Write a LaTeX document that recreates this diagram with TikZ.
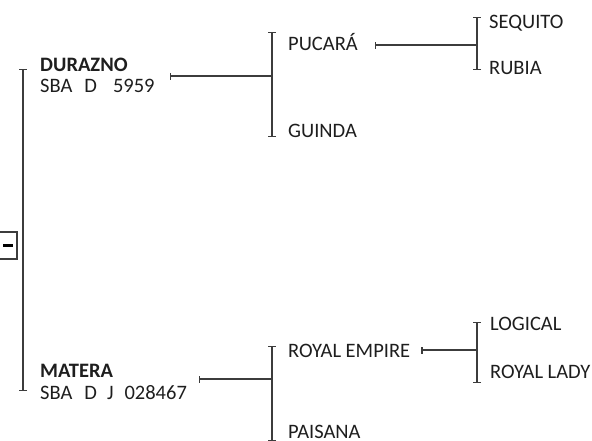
\documentclass[tikz,border=0pt]{standalone}
\usepackage{fontspec}
\setmainfont{Carlito}
\usepackage{tikz}
\usetikzlibrary{arrows.meta, calc}

\definecolor{linegray}{HTML}{3C3C3C}
\definecolor{textgray}{HTML}{1E1E1E}

\tikzset{
  lbl/.style={anchor=base west, inner sep=0pt, text=textgray, align=left,
    font=\fontsize{20.5}{21.5}\selectfont},
  lblbold/.style={lbl, font=\fontsize{20.5}{21.5}\selectfont\bfseries},
  link/.style={draw=linegray, line width=1.2pt, {Bar[width=7pt]}-},
  bracket/.style={draw=linegray, line width=1.2pt, {Bar[width=8pt]}-{Bar[width=8pt]}},
  rootbox/.style={draw=linegray, line width=1.2pt, fill=white, minimum width=18pt,
    minimum height=27pt, inner sep=0pt}
}

\begin{document}
\begin{tikzpicture}[x=1pt, y=-1pt]
\useasboundingbox (0,0) rectangle (592,440);
\clip (0,0) rectangle (592,440);
% root
\node[rootbox] (root) at (8,245.5) {\color{black}\rule[0.6pt]{10pt}{3pt}};
\coordinate (rtop) at (23,69);
\coordinate (rbot) at (23,391);
\draw[bracket] (rtop) -- (rbot);
% parents (base anchor sits on the last line)
\node[lblbold] (durazno) at (40,92.5) {DURAZNO\\\mdseries SBA\hspace{12pt}D\hspace{16pt}5959};
\node[lblbold] (matera) at (40,399) {MATERA\\\mdseries SBA\hspace{12pt}D\hspace{10pt}J\hspace{11pt}028467};
% children of durazno
\node[lbl] (pucara) at (288,50) {PUCARÁ};
\node[lbl] (guinda) at (288,137) {GUINDA};
\coordinate (jdur) at (272,76);
\draw[bracket] (272,32) coordinate (dtop) -- (272,137) coordinate (dbot);
\draw[link] ($(durazno.east |- jdur)+(15,0)$) -- (jdur);
% children of pucara
\node[lbl] (sequito) at (489,28.5) {SEQUITO};
\node[lbl] (rubia) at (489,74) {RUBIA};
\coordinate (jpuc) at (477,45);
\draw[bracket] (477,17) coordinate (ptop) -- (477,70) coordinate (pbot);
\draw[link] ($(pucara.east |- jpuc)+(17,0)$) -- (jpuc);
% children of matera
\node[lbl] (royal) at (288,357) {ROYAL EMPIRE};
\node[lbl] (paisana) at (288,438.5) {PAISANA};
\coordinate (jmat) at (272,379);
\draw[bracket] (272,346) coordinate (mtop) -- (272,441) coordinate (mbot);
\draw[link] ($(matera.east |- jmat)+(12,0)$) -- (jmat);
% children of royal empire
\node[lbl] (logical) at (490,330) {LOGICAL};
\node[lbl] (lady) at (490,378) {ROYAL LADY};
\coordinate (jroy) at (477,350);
\draw[bracket] (477,322) coordinate (rytop) -- (477,383) coordinate (rybot);
\draw[link] ($(royal.east |- jroy)+(11,0)$) -- (jroy);
\end{tikzpicture}
\end{document}
